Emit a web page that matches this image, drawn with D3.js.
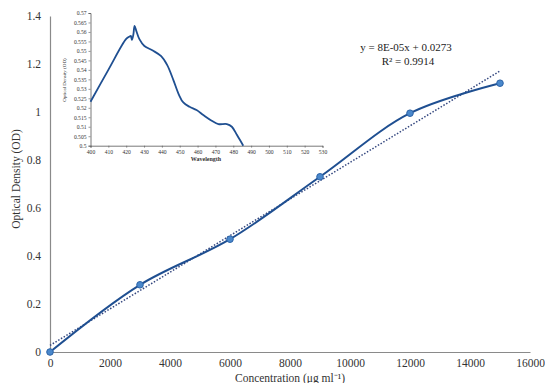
<!DOCTYPE html>
<html>
<head>
<meta charset="utf-8">
<script src="https://cdn.jsdelivr.net/npm/d3@7"></script>
<style>
body { margin: 0; background: #fff; }
text { font-family: "Liberation Serif", "Times New Roman", serif; }
</style>
</head>
<body>
<script>
// main calibration data
var conc = [0, 3000, 6000, 9000, 12000, 15000];
var od = [0, 0.28, 0.47, 0.73, 0.995, 1.12];
var xTicks = [0, 2000, 4000, 6000, 8000, 10000, 12000, 14000, 16000];
var yTicks = [0, 0.2, 0.4, 0.6, 0.8, 1, 1.2, 1.4];

// inset spectrum
var wave = [400, 410, 420, 421.9, 422.6, 423.2, 424, 424.7, 425.8, 427.4, 430.2, 434.9, 439.6, 443, 446.5, 449.5, 452, 455.5, 459.4, 463.2, 467.9, 471.7, 476.4, 479.2, 482.1, 485.6];
var absb = [0.5232, 0.54, 0.5563, 0.5576, 0.5579, 0.5558, 0.5585, 0.5632, 0.5602, 0.5562, 0.5526, 0.5502, 0.5472, 0.5425, 0.5345, 0.527, 0.5228, 0.5205, 0.5188, 0.5162, 0.5132, 0.5114, 0.5114, 0.51, 0.5056, 0.5];
var waveTicks = d3.range(400, 531, 10);
var absTicks = d3.range(0, 15).map(function(i) { return 0.5 + i * 0.005; });

var svg = d3.select("body").append("svg")
	.attr("width", 545)
	.attr("height", 383);

// escalas
var xScale = d3.scaleLinear().domain([0, 16000]).range([50, 530]);
var yScale = d3.scaleLinear().domain([0, 1.4]).range([352, 16]);

// eixos sem ticks
var xAxis = svg.append("g")
	.attr("transform", "translate(0,352)")
	.call(d3.axisBottom(xScale).tickValues(xTicks).tickSize(0).tickPadding(7).tickFormat(d3.format("d")));
var yAxis = svg.append("g")
	.attr("transform", "translate(50,0)")
	.call(d3.axisLeft(yScale).tickValues(yTicks).tickSize(0).tickPadding(9).tickFormat(function(d) { return d3.format("")(+d.toFixed(1)); }));

svg.selectAll(".domain").attr("stroke", "#8a8a8a").attr("stroke-width", 1.2);
svg.selectAll(".tick text")
	.attr("font-family", "Liberation Serif, serif")
	.attr("font-size", "11.5px")
	.attr("fill", "#333");

// linha de tendencia (minimos quadrados)
var mx = d3.mean(conc), my = d3.mean(od);
var sxy = d3.sum(conc, function(x, i) { return (x - mx) * (od[i] - my); });
var sxx = d3.sum(conc, function(x) { return (x - mx) * (x - mx); });
var slope = sxy / sxx, icpt = my - slope * mx;
var trendX = [0, 15000];

svg.append("path")
	.datum(trendX)
	.attr("fill", "none")
	.attr("stroke", "#34477f")
	.attr("stroke-width", 1.5)
	.attr("stroke-dasharray", "1.5,1.7")
	.attr("d", d3.line()
		.x(function(d) { return xScale(d); })
		.y(function(d) { return yScale(slope * d + icpt); }));

// curva suavizada
svg.append("path")
	.datum(conc)
	.attr("fill", "none")
	.attr("stroke", "#1f4f91")
	.attr("stroke-width", 2)
	.attr("d", d3.line()
		.curve(d3.curveCatmullRom.alpha(0.5))
		.x(function(d) { return xScale(d); })
		.y(function(d, i) { return yScale(od[i]); }));

svg.selectAll("circle.pt")
	.data(conc)
	.enter().append("circle")
	.attr("class", "pt")
	.attr("cx", function(d) { return xScale(d); })
	.attr("cy", function(d, i) { return yScale(od[i]); })
	.attr("r", 3.3)
	.attr("fill", "#4a88cc")
	.attr("stroke", "#2d64a8")
	.attr("stroke-width", 1);

// titulos
svg.append("text")
	.attr("transform", "translate(20,179) rotate(-90)")
	.attr("text-anchor", "middle")
	.attr("font-size", "11.5px")
	.attr("fill", "#333")
	.text("Optical Density (OD)");
svg.append("text")
	.attr("x", 290)
	.attr("y", 382)
	.attr("text-anchor", "middle")
	.attr("font-size", "11.5px")
	.attr("fill", "#333")
	.text("Concentration (μg ml⁻¹)");

// equacao
svg.append("text")
	.attr("x", 406).attr("y", 51)
	.attr("text-anchor", "middle")
	.attr("font-size", "11px")
	.attr("fill", "#222")
	.text("y = 8E-05x + 0.0273");
svg.append("text")
	.attr("x", 408).attr("y", 65)
	.attr("text-anchor", "middle")
	.attr("font-size", "11px")
	.attr("fill", "#222")
	.text("R² = 0.9914");

// inset
var ix = d3.scaleLinear().domain([400, 530]).range([90.5, 322.5]);
var iy = d3.scaleLinear().domain([0.5, 0.57]).range([145.7, 13]);

var ixAxis = svg.append("g")
	.attr("transform", "translate(0,145.7)")
	.call(d3.axisBottom(ix).tickValues(waveTicks).tickSize(2).tickPadding(2).tickFormat(d3.format("d")));
var iyAxis = svg.append("g")
	.attr("transform", "translate(90.5,0)")
	.call(d3.axisLeft(iy).tickValues(absTicks).tickSize(2).tickPadding(2).tickFormat(function(d) { return d3.format("")(+d.toFixed(3)); }));

[ixAxis, iyAxis].forEach(function(g) {
	g.selectAll(".domain").attr("stroke", "#555").attr("stroke-width", 0.8);
	g.selectAll(".tick line").attr("stroke", "#555").attr("stroke-width", 0.6);
	g.selectAll(".tick text")
		.attr("font-family", "Liberation Serif, serif")
		.attr("font-size", "5.6px")
		.attr("fill", "#333");
});

svg.append("path")
	.datum(wave)
	.attr("fill", "none")
	.attr("stroke", "#1f4f91")
	.attr("stroke-width", 1.8)
	.attr("d", d3.line()
		.curve(d3.curveCatmullRom.alpha(0.5))
		.x(function(d) { return ix(d); })
		.y(function(d, i) { return iy(absb[i]); }));

svg.append("text")
	.attr("transform", "translate(66,80) rotate(-90)")
	.attr("text-anchor", "middle")
	.attr("font-size", "5px")
	.attr("fill", "#333")
	.text("Optical Density (OD)");
svg.append("text")
	.attr("x", 206).attr("y", 161)
	.attr("text-anchor", "middle")
	.attr("font-size", "6px")
	.attr("font-weight", "bold")
	.attr("fill", "#333")
	.text("Wavelength");
</script>
</body>
</html>
